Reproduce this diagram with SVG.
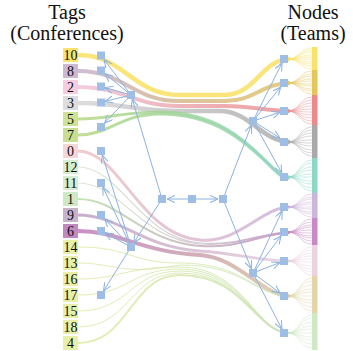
<svg xmlns="http://www.w3.org/2000/svg" width="353" height="351" viewBox="0 0 353 351">
<defs>
<style>
.title{font-family:"Liberation Serif","DejaVu Serif","Times New Roman",serif;font-size:20px;text-anchor:middle;fill:#111}
.tag text{font-family:"Liberation Serif","DejaVu Serif","Times New Roman",serif;font-size:14px;text-anchor:middle;fill:#111}
.flow{fill:none;stroke-opacity:0.82}
.fan{fill:none;stroke-width:0.6;stroke-opacity:0.8}
.edge{fill:none;stroke:#8cb2e1;stroke-width:1;marker-end:url(#arr)}
.sq{fill:#9fbee5}
</style>
<marker id="arr" viewBox="0 0 10 10" refX="10" refY="5" markerWidth="8" markerHeight="8" orient="auto" markerUnits="userSpaceOnUse">
<path d="M0,0.5 L10,5 L0,9.5" fill="none" stroke="#8cb2e1" stroke-width="1.3"/>
</marker>
<linearGradient id="g8" gradientUnits="userSpaceOnUse" x1="78" y1="0" x2="290" y2="0"><stop offset="0" stop-color="#c6aecb"/><stop offset="0.45" stop-color="#d2b48e"/><stop offset="1" stop-color="#dfc264"/></linearGradient>
<linearGradient id="g2" gradientUnits="userSpaceOnUse" x1="78" y1="0" x2="290" y2="0"><stop offset="0" stop-color="#f0c2d8"/><stop offset="0.5" stop-color="#eba3ab"/><stop offset="1" stop-color="#ea8c8c"/></linearGradient>
<linearGradient id="g3" gradientUnits="userSpaceOnUse" x1="78" y1="0" x2="290" y2="0"><stop offset="0" stop-color="#d6d6d6"/><stop offset="1" stop-color="#a8a8a8"/></linearGradient>
<linearGradient id="g57" gradientUnits="userSpaceOnUse" x1="78" y1="0" x2="290" y2="0"><stop offset="0" stop-color="#b4d67f"/><stop offset="0.5" stop-color="#9cd39a"/><stop offset="1" stop-color="#8dd6c4"/></linearGradient>
<linearGradient id="g0" gradientUnits="userSpaceOnUse" x1="78" y1="0" x2="290" y2="0"><stop offset="0" stop-color="#ecc2c2"/><stop offset="1" stop-color="#c9afd6"/></linearGradient>
<linearGradient id="g12" gradientUnits="userSpaceOnUse" x1="78" y1="0" x2="290" y2="0"><stop offset="0" stop-color="#d3e6cb"/><stop offset="1" stop-color="#c6a0c4"/></linearGradient>
<linearGradient id="g1" gradientUnits="userSpaceOnUse" x1="78" y1="0" x2="290" y2="0"><stop offset="0" stop-color="#b9dca9"/><stop offset="1" stop-color="#c48ac2"/></linearGradient>
<linearGradient id="g9" gradientUnits="userSpaceOnUse" x1="78" y1="0" x2="290" y2="0"><stop offset="0" stop-color="#bb9cc0"/><stop offset="1" stop-color="#e6cedb"/></linearGradient>
<linearGradient id="g6" gradientUnits="userSpaceOnUse" x1="78" y1="0" x2="290" y2="0"><stop offset="0" stop-color="#bd78bc"/><stop offset="0.6" stop-color="#c9a0a8"/><stop offset="1" stop-color="#ddcc9e"/></linearGradient>
<linearGradient id="gl" gradientUnits="userSpaceOnUse" x1="78" y1="0" x2="290" y2="0"><stop offset="0" stop-color="#dfe99f"/><stop offset="1" stop-color="#c9e2b8"/></linearGradient>
</defs>
<rect width="353" height="351" fill="#ffffff"/>

<text class="title" x="67" y="19">Tags</text>
<text class="title" x="67" y="40">(Conferences)</text>
<text class="title" x="313" y="19">Nodes</text>
<text class="title" x="313" y="40">(Teams)</text>

<g id="connectors">
<g id="flows">
<path class="flow" stroke="#f8df5c" stroke-width="4.5" d="M78,55 C125,55 132,95 180,95 L225,95 C255,95 262,59 290,59"/>
<path class="flow" stroke="url(#g8)" stroke-width="4" d="M78,71 C125,71 132,101 180,101 L225,101 C255,101 262,83 290,83"/>
<path class="flow" stroke="url(#g2)" stroke-width="4" d="M78,87 C125,87 132,106 180,106 L225,106 C255,106 262,111 290,111"/>
<path class="flow" stroke="url(#g3)" stroke-width="4.5" d="M78,103 C125,103 132,111 180,111 L220,111 C250,111 262,142 290,142"/>
<path class="flow" stroke="url(#g57)" stroke-width="3" d="M78,119 C110,119 120,112 160,112 C215,112 245,140 265,160 C276,171 281,177 290,177"/>
<path class="flow" stroke="url(#g57)" stroke-width="3" d="M78,135 C110,135 120,114 160,114 C215,114 245,142 265,161 C276,172 281,178 290,178"/>
<path class="flow" stroke="url(#g0)" stroke-width="3" d="M78,151 C120,151 140,236 200,240 C240,243 262,207 290,207"/>
<path class="flow" stroke="url(#g12)" stroke-width="1.2" d="M78,167 C120,167 140,238 200,243 C240,246 262,232 290,232"/>
<path class="flow" stroke="url(#g12)" stroke-width="1.2" d="M78,183 C120,183 140,239 200,244 C240,247 262,232 290,232"/>
<path class="flow" stroke="url(#g1)" stroke-width="2" d="M78,199 C120,199 140,241 200,246 C240,249 262,233 290,233"/>
<path class="flow" stroke="url(#g9)" stroke-width="3" d="M78,215 C120,215 140,247 200,251 C240,254 262,261 290,261"/>
<path class="flow" stroke="url(#g6)" stroke-width="4" d="M78,231 C120,231 140,252 200,255 C240,258 262,296 290,296"/>
<path class="flow" stroke="url(#gl)" stroke-width="1" d="M78,247 C130,247 130,263 180,263 C245,263 255,296 290,296"/>
<path class="flow" stroke="url(#gl)" stroke-width="1" d="M78,263 C115,263 120,276 180,265 C245,265 255,296 290,296"/>
<path class="flow" stroke="url(#gl)" stroke-width="1" d="M78,279 C120,279 125,267 180,267 C245,267 255,333 290,333"/>
<path class="flow" stroke="url(#gl)" stroke-width="1" d="M78,295 C130,295 130,269 180,269 C245,269 255,333 290,333"/>
<path class="flow" stroke="url(#gl)" stroke-width="1" d="M78,311 C130,311 130,271 180,271 C245,271 255,333 290,333"/>
<path class="flow" stroke="url(#gl)" stroke-width="1" d="M78,327 C130,327 130,273 180,273 C245,273 255,333 290,333"/>
<path class="flow" stroke="url(#gl)" stroke-width="2" d="M78,343 C130,343 130,275 180,275 C245,275 255,333 290,333"/>
</g>
<g id="fans">
<path class="fan" stroke="#f8df5c" d="M287,59C300,59 300,48 312,48M287,59C300,59 300,50 312,50M287,59C300,59 300,52 312,52M287,59C300,59 300,55 312,55M287,59C300,59 300,57 312,57M287,59C300,59 300,59 312,59M287,59C300,59 300,62 312,62M287,59C300,59 300,64 312,64M287,59C300,59 300,66 312,66M287,59C300,59 300,69 312,69"/>
<path class="fan" stroke="#e3c75b" d="M287,83C300,83 300,71 312,71M287,83C300,83 300,74 312,74M287,83C300,83 300,76 312,76M287,83C300,83 300,79 312,79M287,83C300,83 300,81 312,81M287,83C300,83 300,84 312,84M287,83C300,83 300,86 312,86M287,83C300,83 300,89 312,89M287,83C300,83 300,91 312,91M287,83C300,83 300,94 312,94"/>
<path class="fan" stroke="#ec8f8f" d="M287,111C300,111 300,97 312,97M287,111C300,111 300,100 312,100M287,111C300,111 300,103 312,103M287,111C300,111 300,106 312,106M287,111C300,111 300,109 312,109M287,111C300,111 300,112 312,112M287,111C300,111 300,115 312,115M287,111C300,111 300,118 312,118M287,111C300,111 300,121 312,121M287,111C300,111 300,124 312,124"/>
<path class="fan" stroke="#aaaaaa" d="M287,142C300,142 300,127 312,127M287,142C300,142 300,130 312,130M287,142C300,142 300,133 312,133M287,142C300,142 300,136 312,136M287,142C300,142 300,140 312,140M287,142C300,142 300,143 312,143M287,142C300,142 300,146 312,146M287,142C300,142 300,150 312,150M287,142C300,142 300,153 312,153M287,142C300,142 300,156 312,156"/>
<path class="fan" stroke="#8dd6c5" d="M287,177C300,177 300,160 312,160M287,177C300,177 300,163 312,163M287,177C300,177 300,167 312,167M287,177C300,177 300,170 312,170M287,177C300,177 300,174 312,174M287,177C300,177 300,177 312,177M287,177C300,177 300,181 312,181M287,177C300,177 300,184 312,184M287,177C300,177 300,188 312,188M287,177C300,177 300,191 312,191"/>
<path class="fan" stroke="#c9b2d7" d="M287,207C300,207 300,194 312,194M287,207C300,207 300,197 312,197M287,207C300,207 300,199 312,199M287,207C300,207 300,202 312,202M287,207C300,207 300,204 312,204M287,207C300,207 300,207 312,207M287,207C300,207 300,209 312,209M287,207C300,207 300,212 312,212M287,207C300,207 300,214 312,214M287,207C300,207 300,217 312,217"/>
<path class="fan" stroke="#c68ac4" d="M287,232C300,232 300,219 312,219M287,232C300,232 300,222 312,222M287,232C300,232 300,225 312,225M287,232C300,232 300,227 312,227M287,232C300,232 300,230 312,230M287,232C300,232 300,233 312,233M287,232C300,232 300,236 312,236M287,232C300,232 300,238 312,238M287,232C300,232 300,241 312,241M287,232C300,232 300,244 312,244"/>
<path class="fan" stroke="#e8cfdc" d="M287,261C300,261 300,247 312,247M287,261C300,261 300,250 312,250M287,261C300,261 300,253 312,253M287,261C300,261 300,256 312,256M287,261C300,261 300,259 312,259M287,261C300,261 300,262 312,262M287,261C300,261 300,266 312,266M287,261C300,261 300,269 312,269M287,261C300,261 300,272 312,272M287,261C300,261 300,275 312,275"/>
<path class="fan" stroke="#e0d2a2" d="M287,296C300,296 300,278 312,278M287,296C300,296 300,281 312,281M287,296C300,296 300,285 312,285M287,296C300,296 300,289 312,289M287,296C300,296 300,292 312,292M287,296C300,296 300,296 312,296M287,296C300,296 300,300 312,300M287,296C300,296 300,303 312,303M287,296C300,296 300,307 312,307M287,296C300,296 300,311 312,311"/>
<path class="fan" stroke="#cde5bf" d="M287,333C300,333 300,315 312,315M287,333C300,333 300,318 312,318M287,333C300,333 300,322 312,322M287,333C300,333 300,326 312,326M287,333C300,333 300,329 312,329M287,333C300,333 300,333 312,333M287,333C300,333 300,337 312,337M287,333C300,333 300,340 312,340M287,333C300,333 300,344 312,344M287,333C300,333 300,348 312,348"/>
</g>
<g id="arrows">
<path class="edge" d="M192,199 L167,199"/>
<path class="edge" d="M192,199 L218,199"/>
<path class="edge" d="M162,199 L132.3,99.3"/>
<path class="edge" d="M162,199 L133.7,242.8"/>
<path class="edge" d="M223,199 L251.3,125.3"/>
<path class="edge" d="M223,199 L251.3,268.7"/>
<path class="edge" d="M131,95 L104,59.5"/>
<path class="edge" d="M131,95 L105,73.8"/>
<path class="edge" d="M131,95 L105,87.6"/>
<path class="edge" d="M131,95 L105,101.4"/>
<path class="edge" d="M131,95 L104.6,123"/>
<path class="edge" d="M131,247 L102.3,155"/>
<path class="edge" d="M131,247 L102.9,187"/>
<path class="edge" d="M131,247 L104.8,219"/>
<path class="edge" d="M131,247 L105,233.1"/>
<path class="edge" d="M131,247 L103.5,291"/>
<path class="edge" d="M253,121 L282,63"/>
<path class="edge" d="M253,121 L280.7,87"/>
<path class="edge" d="M253,121 L280,112.3"/>
<path class="edge" d="M253,121 L280,138"/>
<path class="edge" d="M253,121 L281.8,173"/>
<path class="edge" d="M253,273 L282.1,211"/>
<path class="edge" d="M253,273 L281,236"/>
<path class="edge" d="M253,273 L280,262.5"/>
<path class="edge" d="M253,273 L280,293"/>
<path class="edge" d="M253,273 L281.9,329"/>
</g>
</g>

<g id="teams">
<rect id="team-a" x="312" y="47" width="5.5" height="23" fill="#f9e26a"/>
<rect id="team-b" x="312" y="70" width="5.5" height="25" fill="#e3c75b"/>
<rect id="team-c" x="312" y="95" width="5.5" height="30" fill="#ec8a8a"/>
<rect id="team-d" x="312" y="125" width="5.5" height="33" fill="#a9a9a9"/>
<rect id="team-e" x="312" y="158" width="5.5" height="35" fill="#8dd7c6"/>
<rect id="team-f" x="312" y="193" width="5.5" height="25" fill="#cbb5d8"/>
<rect id="team-g" x="312" y="218" width="5.5" height="27" fill="#c78ac5"/>
<rect id="team-h" x="312" y="245" width="5.5" height="31" fill="#ebd3df"/>
<rect id="team-i" x="312" y="276" width="5.5" height="37" fill="#e3d5a8"/>
<rect id="team-j" x="312" y="313" width="5.5" height="37" fill="#d0e8c4"/>
</g>

<g id="tags">
<g id="tag-10" class="tag"><rect x="63" y="48" width="15" height="14" fill="#fbe46e"/><text x="70.5" y="60">10</text></g>
<g id="tag-8" class="tag"><rect x="63" y="64" width="15" height="14" fill="#cdb9d2"/><text x="70.5" y="76">8</text></g>
<g id="tag-2" class="tag"><rect x="63" y="80" width="15" height="14" fill="#f6cde0"/><text x="70.5" y="92">2</text></g>
<g id="tag-3" class="tag"><rect x="63" y="96" width="15" height="14" fill="#dddddd"/><text x="70.5" y="108">3</text></g>
<g id="tag-5" class="tag"><rect x="63" y="112" width="15" height="14" fill="#cde293"/><text x="70.5" y="124">5</text></g>
<g id="tag-7" class="tag"><rect x="63" y="128" width="15" height="14" fill="#c8de90"/><text x="70.5" y="140">7</text></g>
<g id="tag-0" class="tag"><rect x="63" y="144" width="15" height="14" fill="#f6d7d7"/><text x="70.5" y="156">0</text></g>
<g id="tag-12" class="tag"><rect x="63" y="160" width="15" height="14" fill="#d7edd1"/><text x="70.5" y="172">12</text></g>
<g id="tag-11" class="tag"><rect x="63" y="176" width="15" height="14" fill="#d7edd1"/><text x="70.5" y="188">11</text></g>
<g id="tag-1" class="tag"><rect x="63" y="192" width="15" height="14" fill="#cde9c5"/><text x="70.5" y="204">1</text></g>
<g id="tag-9" class="tag"><rect x="63" y="208" width="15" height="14" fill="#c8b1ca"/><text x="70.5" y="220">9</text></g>
<g id="tag-6" class="tag"><rect x="63" y="224" width="15" height="14" fill="#c08ac0"/><text x="70.5" y="236">6</text></g>
<g id="tag-14" class="tag"><rect x="63" y="240" width="15" height="14" fill="#e8f0a8"/><text x="70.5" y="252">14</text></g>
<g id="tag-13" class="tag"><rect x="63" y="256" width="15" height="14" fill="#e8f0a8"/><text x="70.5" y="268">13</text></g>
<g id="tag-16" class="tag"><rect x="63" y="272" width="15" height="14" fill="#e8f0a8"/><text x="70.5" y="284">16</text></g>
<g id="tag-17" class="tag"><rect x="63" y="288" width="15" height="14" fill="#e8f0a8"/><text x="70.5" y="300">17</text></g>
<g id="tag-15" class="tag"><rect x="63" y="304" width="15" height="14" fill="#e8f0a8"/><text x="70.5" y="316">15</text></g>
<g id="tag-18" class="tag"><rect x="63" y="320" width="15" height="14" fill="#e8f0a8"/><text x="70.5" y="332">18</text></g>
<g id="tag-4" class="tag"><rect x="63" y="336" width="15" height="14" fill="#e8f0a8"/><text x="70.5" y="348">4</text></g>
</g>

<g id="squares">
<g id="sq-l1"><rect class="sq" x="97" y="51.5" width="8" height="8"/></g>
<g id="sq-l2"><rect class="sq" x="97" y="66.5" width="8" height="8"/></g>
<g id="sq-l3"><rect class="sq" x="97" y="82.5" width="8" height="8"/></g>
<g id="sq-l4"><rect class="sq" x="97" y="98.5" width="8" height="8"/></g>
<g id="sq-l5"><rect class="sq" x="97" y="123" width="8" height="8"/></g>
<g id="sq-l6"><rect class="sq" x="97" y="147" width="8" height="8"/></g>
<g id="sq-l7"><rect class="sq" x="97" y="179" width="8" height="8"/></g>
<g id="sq-l8"><rect class="sq" x="97" y="211" width="8" height="8"/></g>
<g id="sq-l9"><rect class="sq" x="97" y="227" width="8" height="8"/></g>
<g id="sq-l10"><rect class="sq" x="97" y="291" width="8" height="8"/></g>
<g id="sq-h1"><rect class="sq" x="127" y="91" width="8" height="8"/></g>
<g id="sq-h2"><rect class="sq" x="127" y="243" width="8" height="8"/></g>
<g id="sq-cl"><rect class="sq" x="158" y="195" width="8" height="8"/></g>
<g id="sq-cm"><rect class="sq" x="188" y="195" width="8" height="8"/></g>
<g id="sq-cr"><rect class="sq" x="219" y="195" width="8" height="8"/></g>
<g id="sq-rh1"><rect class="sq" x="249" y="117" width="8" height="8"/></g>
<g id="sq-rh2"><rect class="sq" x="249" y="269" width="8" height="8"/></g>
<g id="sq-r1"><rect class="sq" x="280" y="55" width="8" height="8"/></g>
<g id="sq-r2"><rect class="sq" x="280" y="79" width="8" height="8"/></g>
<g id="sq-r3"><rect class="sq" x="280" y="107" width="8" height="8"/></g>
<g id="sq-r4"><rect class="sq" x="280" y="138" width="8" height="8"/></g>
<g id="sq-r5"><rect class="sq" x="280" y="173" width="8" height="8"/></g>
<g id="sq-r6"><rect class="sq" x="280" y="203" width="8" height="8"/></g>
<g id="sq-r7"><rect class="sq" x="280" y="228" width="8" height="8"/></g>
<g id="sq-r8"><rect class="sq" x="280" y="257" width="8" height="8"/></g>
<g id="sq-r9"><rect class="sq" x="280" y="292" width="8" height="8"/></g>
<g id="sq-r10"><rect class="sq" x="280" y="329" width="8" height="8"/></g>
</g>
</svg>
